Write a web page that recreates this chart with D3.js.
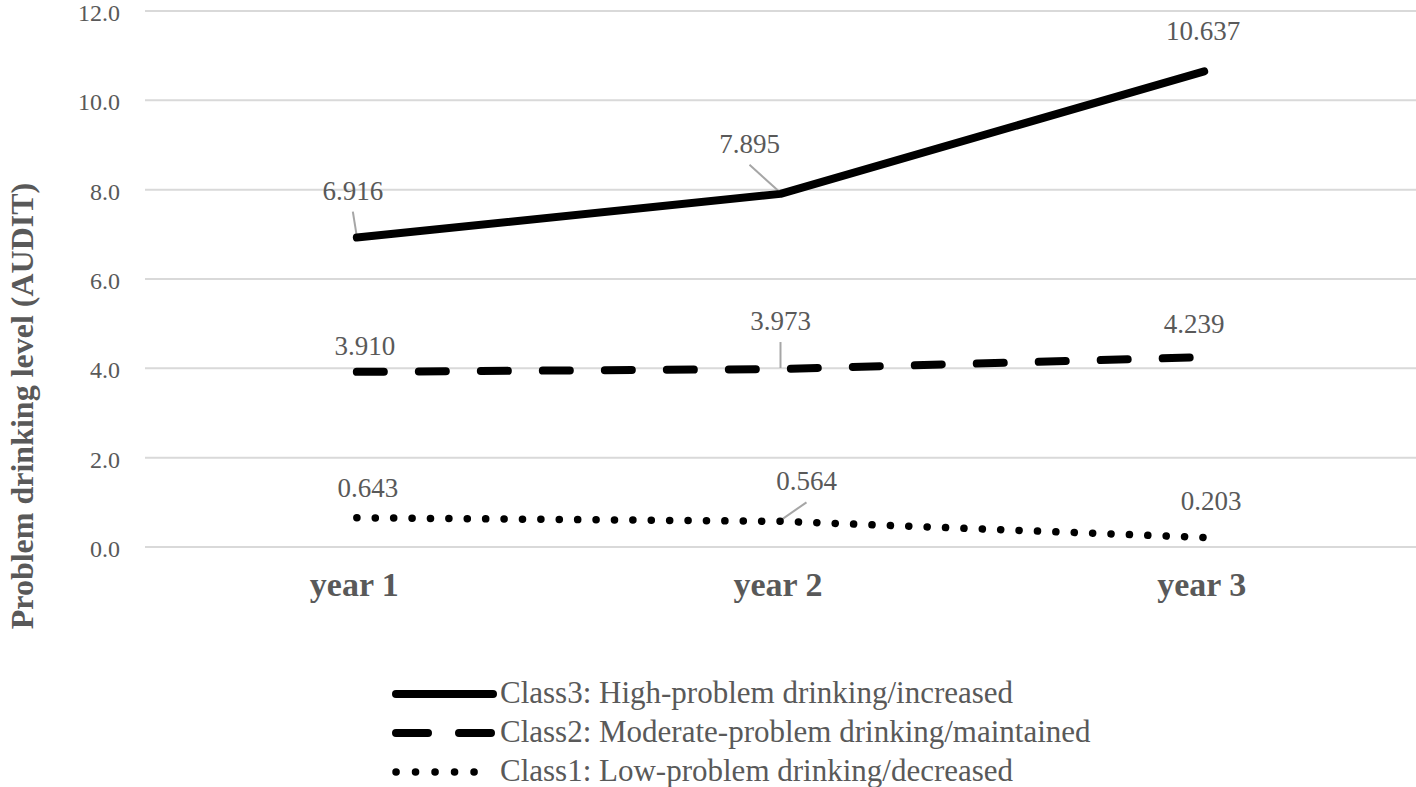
<!DOCTYPE html>
<html>
<head>
<meta charset="utf-8">
<script src="https://cdn.jsdelivr.net/npm/d3@7"></script>
<style>
  html, body { margin: 0; padding: 0; background: #fff; }
  svg { display: block; }
  text { font-family: "Liberation Serif", "Times New Roman", serif; fill: #595959; }
</style>
</head>
<body>
<svg id="chart" width="1416" height="787"></svg>
<script>
const categories = ["year 1", "year 2", "year 3"];
const class3Values = [6.916, 7.895, 10.637];
const class2Values = [3.910, 3.973, 4.239];
const class1Values = [0.643, 0.564, 0.203];
const seriesNames = [
  "Class3: High-problem drinking/increased",
  "Class2: Moderate-problem drinking/maintained",
  "Class1: Low-problem drinking/decreased"
];
const yTicks = [0, 2, 4, 6, 8, 10, 12];
const yTitle = "Problem drinking level (AUDIT)";

const series = [
  { name: seriesNames[0], values: class3Values, style: "solid" },
  { name: seriesNames[1], values: class2Values, style: "dash" },
  { name: seriesNames[2], values: class1Values, style: "dot" }
];

// label offsets (dx, dy of baseline relative to point) and whether a leader line is drawn
const labelOffsets = [
  [[-4, -38, true], [-31, -41, true], [-1, -31, false]],
  [[8, -17, false], [0, -39, true], [-10, -24, false]],
  [[11, -21, false], [26, -31, true], [7, -27, false]]
];

const svg = d3.select("#chart");
const mLeft = 145, mRight = 1416, mTop = 10.5, mBottom = 546.5;

const x = d3.scalePoint().domain(categories).range([mLeft, mRight]).padding(0.5);
const y = d3.scaleLinear().domain([0, 12]).range([mBottom, mTop]);

// gridlines
const yAxis = d3.axisLeft(y).tickValues(yTicks).tickFormat(d3.format(".1f")).tickSize(-(mRight - mLeft)).tickPadding(12);
const gy = svg.append("g").attr("transform", `translate(${mLeft},0)`).call(yAxis);
gy.select(".domain").remove();
gy.selectAll(".tick line").attr("stroke", "#d9d9d9").attr("stroke-width", 2);
gy.selectAll(".tick text").attr("font-size", 24).attr("dx", -13).attr("dy", "0.42em").style("font-family", "Liberation Serif").attr("fill", "#595959");

// x axis labels
const xAxis = d3.axisBottom(x).tickSize(0).tickPadding(0);
const gx = svg.append("g").attr("transform", `translate(0,${mBottom})`).call(xAxis);
gx.select(".domain").remove();
gx.selectAll(".tick text").attr("font-size", 34).attr("font-weight", "bold").style("font-family", "Liberation Serif").attr("fill", "#595959").attr("dy", null).attr("y", 49).attr("dx", -3);

// y title
svg.append("text")
  .attr("transform", `translate(33,406) rotate(-90)`)
  .attr("text-anchor", "middle")
  .attr("font-size", 32)
  .attr("font-weight", "bold")
  .text(yTitle);

function styleLine(sel, style) {
  sel.attr("fill", "none").attr("stroke", "#000");
  if (style === "solid") sel.attr("stroke-width", 8).attr("stroke-linecap", "round").attr("stroke-linejoin", "round");
  if (style === "dash") sel.attr("stroke-width", 8).attr("stroke-linecap", "round").attr("stroke-dasharray", "27,35");
  if (style === "dot") sel.attr("stroke-width", 7.5).attr("stroke-linecap", "round").attr("stroke-dasharray", "0.1,18.3");
}

const line = d3.line().x((d, i) => x(categories[i])).y(d => y(d));

// leader lines
series.forEach((s, si) => {
  s.values.forEach((v, i) => {
    const [dx, dy, leader] = labelOffsets[si][i];
    const px = x(categories[i]), py = y(v);
    const lx = px + dx, ly = py + dy;
    if (leader) {
      svg.append("line")
        .attr("x1", px).attr("y1", py - 1)
        .attr("x2", lx).attr("y2", ly + 12)
        .attr("stroke", "#a6a6a6").attr("stroke-width", 2);
    }
  });
});

series.forEach(s => {
  svg.append("path").datum(s.values).attr("d", line).call(styleLine, s.style);
});

series.forEach((s, si) => {
  s.values.forEach((v, i) => {
    const [dx, dy] = labelOffsets[si][i];
    svg.append("text")
      .attr("x", x(categories[i]) + dx)
      .attr("y", y(v) + dy)
      .attr("text-anchor", "middle")
      .attr("font-size", 27)
      .text(d3.format(".3f")(v));
  });
});

// legend
const legendX1 = 392, legendX2 = 497, legendY0 = 694, legendStep = 39;
series.forEach((s, si) => {
  const ly = legendY0 + si * legendStep;
  const l = svg.append("line").attr("x1", legendX1 + 4).attr("x2", legendX2 - 4).attr("y1", ly).attr("y2", ly);
  styleLine(l, s.style);
  if (s.style === "dash") l.attr("stroke-dasharray", "32,31");
  if (s.style === "dot") l.attr("stroke-dasharray", "0.1,19.4");
  svg.append("text").attr("x", legendX2 + 3).attr("y", ly + 9).attr("font-size", 31).text(s.name);
});
</script>
</body>
</html>
